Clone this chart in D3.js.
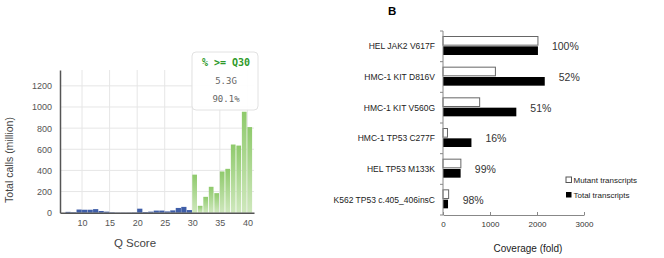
<!DOCTYPE html>
<html>
<head>
<meta charset="utf-8">
<script src="https://cdn.jsdelivr.net/npm/d3@7"></script>
<style>
  body { margin: 0; background: #fff; }
  svg { display: block; font-family: "Liberation Sans", Arial, sans-serif; }
</style>
</head>
<body>
<div id="chart"></div>
<script>
var width = 664
var height = 258

// panel A: Q score histogram (million calls)
var qScores = [7,8,9,10,11,12,13,14,15,16,17,18,19,20,21,22,23,24,25,26,27,28,29,30,31,32,33,34,35,36,37,38,39,40]
var qCalls  = [8,5,30,28,28,34,16,10,4,2,2,2,3,38,6,10,20,20,12,22,45,55,25,360,65,150,245,185,390,415,645,635,955,810]
var qTicksX = [10,15,20,25,30,35,40]
var qTicksY = [0,200,400,600,800,1000,1200]
var boxLines = ["% >= Q30", "5.3G", "90.1%"]

// panel B: coverage per transcript
var variants = ["HEL JAK2 V617F","HMC-1 KIT D816V","HMC-1 KIT V560G","HMC-1 TP53 C277F","HEL TP53 M133K","K562 TP53 c.405_406insC"]
var mutantCov = [2020,1115,780,95,380,120]
var totalCov  = [2020,2165,1560,605,375,107]
var pctLabels = ["100%","52%","51%","16%","99%","98%"]
var covTicks = [0,1000,2000,3000]
var seriesNames = ["Mutant transcripts","Total transcripts"]

var svg = d3.select("#chart").append("svg")
  .attr("width", width)
  .attr("height", height)

// ---------- panel A ----------
var x1 = d3.scaleLinear().domain([6, 41.2]).range([60, 254])
var y1 = d3.scaleLinear().domain([0, 1350]).range([212.7, 70])

var defs = svg.append("defs")
var grad = defs.append("linearGradient").attr("id", "greenGrad")
  .attr("x1", 0).attr("y1", 0).attr("x2", 0).attr("y2", 1)
grad.append("stop").attr("offset", "0%").attr("stop-color", "#8fca6c")
grad.append("stop").attr("offset", "100%").attr("stop-color", "#cfe8bd")

var gA = svg.append("g")

// grid
gA.selectAll(".vgrid").data(qTicksX).enter().append("line")
  .attr("x1", d => x1(d)).attr("x2", d => x1(d))
  .attr("y1", y1(1350)).attr("y2", y1(0))
  .attr("stroke", "#e6e6e6")
gA.selectAll(".hgrid").data(qTicksY.slice(1)).enter().append("line")
  .attr("x1", x1(6)).attr("x2", x1(41.2))
  .attr("y1", d => y1(d)).attr("y2", d => y1(d))
  .attr("stroke", "#e6e6e6")

var qData = qScores.map((q, i) => ({q: q, v: qCalls[i]}))
gA.selectAll(".qbar").data(qData).enter().append("rect")
  .attr("x", d => x1(d.q))
  .attr("width", d => x1(d.q + 1) - x1(d.q) - (d.q >= 30 ? 0.8 : 0.3))
  .attr("y", d => y1(d.v))
  .attr("height", d => y1(0) - y1(d.v))
  .attr("fill", d => d.q >= 30 ? "url(#greenGrad)" : "#3f5ea8")

// axes
var axA = gA.append("g").attr("transform", `translate(0,${y1(0)})`)
  .call(d3.axisBottom(x1).tickValues(qTicksX).tickSize(0).tickPadding(7))
axA.select(".domain").attr("stroke", "#555").attr("stroke-width", 1.5)
axA.selectAll("text").attr("font-size", 9).attr("fill", "#555")

var ayA = gA.append("g").attr("transform", `translate(${x1(6)},0)`)
  .call(d3.axisLeft(y1).tickValues(qTicksY).tickFormat(d3.format("d")).tickSize(0).tickPadding(8))
ayA.select(".domain").attr("stroke", "#555").attr("stroke-width", 1.5)
ayA.selectAll("text").attr("font-size", 9).attr("fill", "#555")

gA.append("text")
  .attr("transform", "translate(13,160) rotate(-90)")
  .attr("text-anchor", "middle")
  .attr("font-size", 10.5).attr("fill", "#444")
  .text("Total calls (million)")

gA.append("text")
  .attr("x", 135).attr("y", 247)
  .attr("text-anchor", "middle")
  .attr("font-size", 11.5).attr("fill", "#444")
  .text("Q Score")

// summary box
gA.append("rect")
  .attr("x", 192).attr("y", 52).attr("width", 66).attr("height", 58).attr("rx", 4)
  .attr("fill", "#fff").attr("fill-opacity", 0.92)
  .attr("stroke", "#e2e2e2")
gA.selectAll(".boxtxt").data(boxLines).enter().append("text")
  .attr("x", 226).attr("y", (d, i) => 66 + i * 18)
  .attr("text-anchor", "middle")
  .attr("font-family", "'DejaVu Sans Mono', monospace")
  .attr("font-size", (d, i) => i === 0 ? 10 : 9)
  .attr("font-weight", (d, i) => i === 0 ? "bold" : "normal")
  .attr("fill", (d, i) => i === 0 ? "#2f9a2a" : "#666")
  .text(d => d)

// ---------- panel B ----------
var x2 = d3.scaleLinear().domain([0, 3000]).range([443, 584])
var y2 = d3.scaleBand().domain(variants).range([31, 215])
var sub = d3.scaleBand().domain(["mutant", "total"]).range([5.5, 24]).paddingInner(0.12)

var gB = svg.append("g")

svg.append("text").attr("x", 388).attr("y", 15)
  .attr("font-size", 11.5).attr("font-weight", "bold").text("B")

var rows = variants.map((v, i) => ({name: v, mutant: mutantCov[i], total: totalCov[i], pct: pctLabels[i]}))
var row = gB.selectAll(".row").data(rows).enter().append("g")
  .attr("transform", d => `translate(0,${y2(d.name)})`)

row.append("rect")
  .attr("x", x2(0)).attr("y", sub("mutant"))
  .attr("width", d => x2(d.mutant) - x2(0)).attr("height", sub.bandwidth())
  .attr("fill", "#fff").attr("stroke", "#666").attr("stroke-width", 1)
row.append("rect")
  .attr("x", x2(0)).attr("y", sub("total"))
  .attr("width", d => x2(d.total) - x2(0)).attr("height", sub.bandwidth())
  .attr("fill", "#000")
row.append("text")
  .attr("x", d => x2(Math.max(d.mutant, d.total)) + 14)
  .attr("y", y2.bandwidth() / 2 + 4)
  .attr("font-size", 10.5).attr("fill", "#333")
  .text(d => d.pct)
row.append("text")
  .attr("x", 435).attr("y", y2.bandwidth() / 2 + 3)
  .attr("text-anchor", "end")
  .attr("font-size", 8.5).attr("fill", "#222")
  .text(d => d.name)

// category axis with ticks at band edges
gB.append("line").attr("x1", x2(0)).attr("x2", x2(0))
  .attr("y1", y2.range()[0]).attr("y2", y2.range()[1]).attr("stroke", "#888")
var edges = variants.map(v => y2(v)).concat([y2.range()[1]])
gB.selectAll(".ytick").data(edges).enter().append("line")
  .attr("x1", x2(0) - 3).attr("x2", x2(0))
  .attr("y1", d => d).attr("y2", d => d).attr("stroke", "#888")

var axB = gB.append("g").attr("transform", `translate(0,${y2.range()[1]})`)
  .call(d3.axisBottom(x2).tickValues(covTicks).tickFormat(d3.format("d")).tickSize(-3).tickSizeOuter(0).tickPadding(6))
axB.select(".domain").attr("stroke", "#888")
axB.selectAll(".tick line").attr("stroke", "#888")
axB.selectAll("text").attr("font-size", 8).attr("fill", "#333")

gB.append("text")
  .attr("x", 528).attr("y", 252)
  .attr("text-anchor", "middle")
  .attr("font-size", 10).attr("fill", "#222")
  .text("Coverage (fold)")

// legend
var leg = gB.selectAll(".leg").data(seriesNames).enter().append("g")
  .attr("transform", (d, i) => `translate(566,${177 + i * 15})`)
leg.append("rect").attr("width", 5.5).attr("height", 5.5)
  .attr("fill", (d, i) => i === 0 ? "#fff" : "#000")
  .attr("stroke", (d, i) => i === 0 ? "#555" : "none")
leg.append("text").attr("x", 7.5).attr("y", 5.5)
  .attr("font-size", 8).attr("fill", "#222")
  .text(d => d)
</script>
</body>
</html>
